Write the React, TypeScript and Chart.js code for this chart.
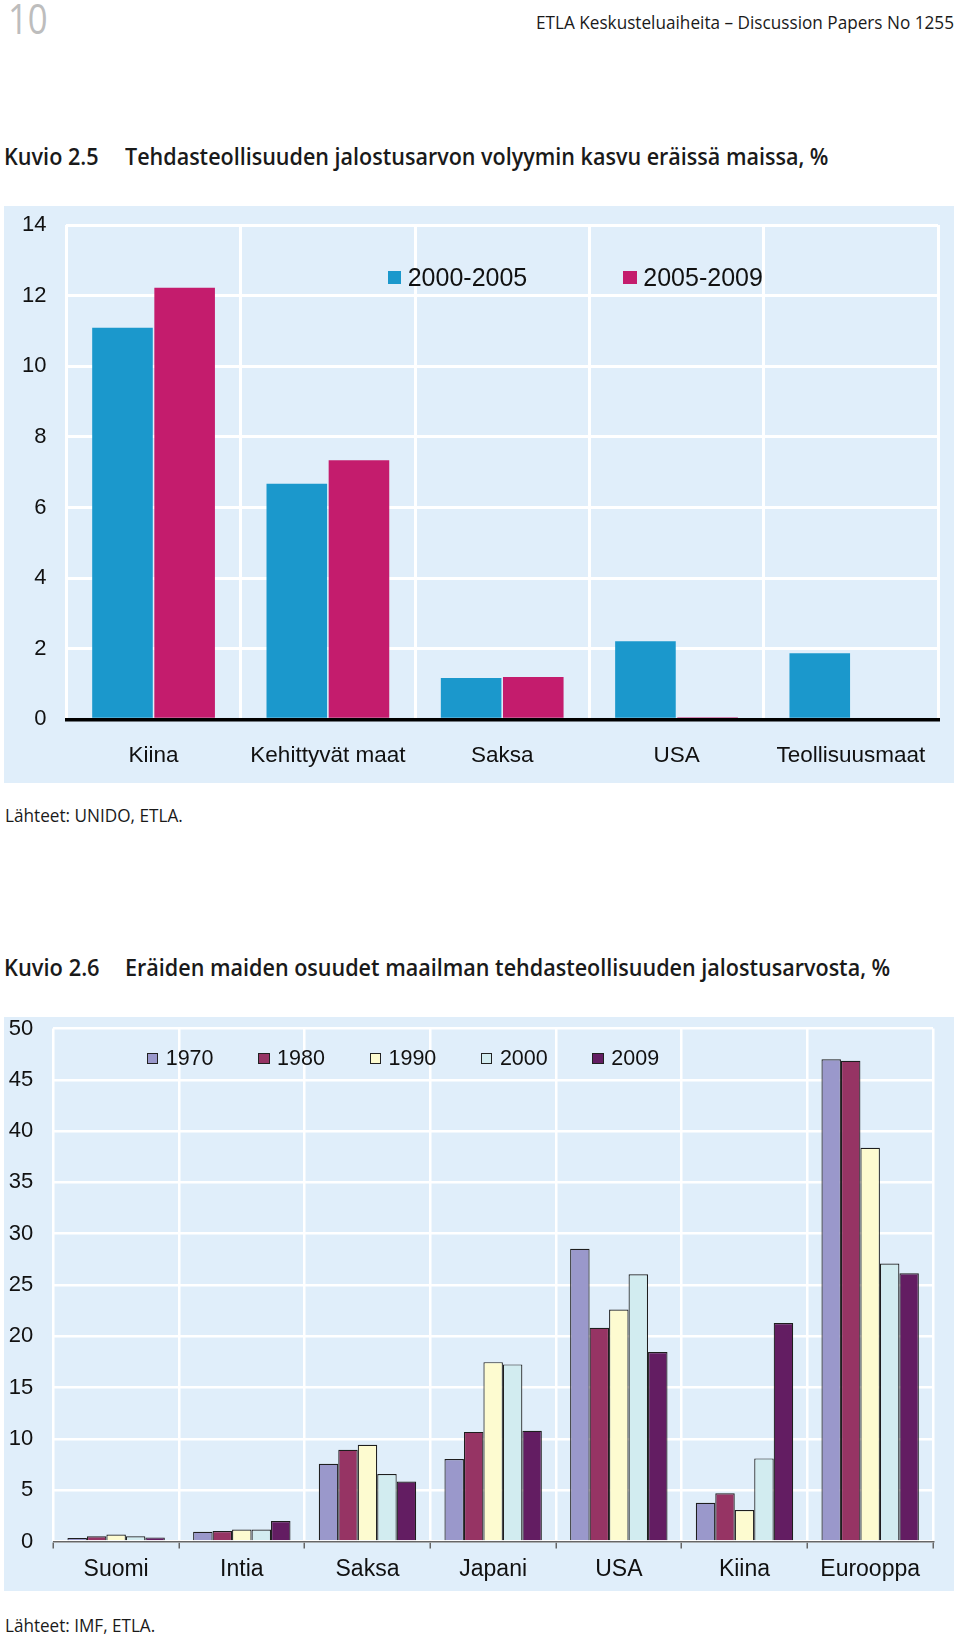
import React, { useEffect, useLayoutEffect, useRef, useState } from "react";
import { Chart, registerables } from "chart.js";

Chart.register(...registerables);

// ---------- DATA ----------
const CATEGORIES_1 = ["Kiina", "Kehittyvät maat", "Saksa", "USA", "Teollisuusmaat"];
const SERIES_1_LABELS = ["2000-2005", "2005-2009"];
const GROWTH_2000_2005 = [11.09, 6.67, 1.17, 2.21, 1.87];
const GROWTH_2005_2009: (number | null)[] = [12.22, 7.34, 1.2, 0.06, null];
const Y1_MIN = 0;
const Y1_MAX = 14;
const Y1_STEP = 2;

const CATEGORIES_2 = ["Suomi", "Intia", "Saksa", "Japani", "USA", "Kiina", "Eurooppa"];
const SERIES_2_LABELS = ["1970", "1980", "1990", "2000", "2009"];
const SHARE_1970 = [0.35, 0.94, 7.58, 8.03, 28.54, 3.77, 47.0];
const SHARE_1980 = [0.5, 1.03, 8.94, 10.68, 20.84, 4.71, 46.85];
const SHARE_1990 = [0.68, 1.16, 9.42, 17.48, 22.6, 3.06, 38.38];
const SHARE_2000 = [0.5, 1.16, 6.58, 17.26, 26.04, 8.1, 27.1];
const SHARE_2009 = [0.4, 2.0, 5.84, 10.8, 18.47, 21.3, 26.14];
const Y2_MIN = 0;
const Y2_MAX = 50;
const Y2_STEP = 5;

// ---------- STYLE ----------
const PANEL_BG = "#e0eefa";
const COLORS_1 = ["#1b98cc", "#c41c6d"];
const COLORS_2 = ["#9a98cb", "#963464", "#fdfbd0", "#d2ecf0", "#631d62"];
const CHART_FONT = "'Liberation Sans', Arial, sans-serif";
const PAGE_FONT = "'Open Sans', 'Noto Sans', sans-serif";

type FitProps = {
  text: string;
  x: number;
  cy: number;
  w: number;
  size: number;
  weight?: number;
  color?: string;
  family?: string;
};

function FitText({ text, x, cy, w, size, weight = 400, color = "#1a1a1a", family = PAGE_FONT }: FitProps) {
  const ref = useRef<HTMLSpanElement>(null);
  const [k, setK] = useState(1);
  useLayoutEffect(() => {
    const measure = () => {
      const el = ref.current;
      if (!el) return;
      const nat = el.offsetWidth;
      if (nat > 0) setK(w / nat);
    };
    measure();
    const f = (document as any).fonts;
    if (f && f.ready) f.ready.then(measure);
  }, [text, w]);
  return (
    <span
      ref={ref}
      style={{
        position: "absolute",
        left: x,
        top: cy - size * 0.6,
        fontSize: size,
        lineHeight: `${size * 1.2}px`,
        fontFamily: family,
        fontWeight: weight,
        color,
        whiteSpace: "nowrap",
        transform: `scaleX(${k})`,
        transformOrigin: "0 50%",
      }}
    >
      {text}
    </span>
  );
}

function Chart1() {
  const ref = useRef<HTMLCanvasElement>(null);
  useEffect(() => {
    if (!ref.current) return;
    const chart = new Chart(ref.current, {
      type: "bar",
      data: {
        labels: CATEGORIES_1,
        datasets: [
          { label: SERIES_1_LABELS[0], data: GROWTH_2000_2005, backgroundColor: COLORS_1[0], borderWidth: 0 },
          { label: SERIES_1_LABELS[1], data: GROWTH_2005_2009 as any, backgroundColor: COLORS_1[1], borderWidth: 0 },
        ],
      },
      options: {
        responsive: false,
        animation: false,
        devicePixelRatio: 1,
        layout: { padding: { top: 19, right: 16, left: 0, bottom: 0 } },
        plugins: { legend: { display: false }, tooltip: { enabled: false } },
        datasets: { bar: { categoryPercentage: 0.713, barPercentage: 0.975 } },
        scales: {
          x: {
            grid: { color: "#ffffff", lineWidth: 3, drawTicks: false, offset: true, z: -1 },
            border: { display: true, color: "#000000", width: 3.5, z: 0 },
            ticks: { font: { family: CHART_FONT, size: 22.5 }, color: "#111111", padding: 23, maxRotation: 0, autoSkip: false },
            afterFit: (s: any) => {
              s.height = 63.7;
            },
          },
          y: {
            min: Y1_MIN,
            max: Y1_MAX,
            ticks: { stepSize: Y1_STEP, font: { family: CHART_FONT, size: 22, lineHeight: 1 }, color: "#111111", padding: 20 },
            grid: { color: "#ffffff", lineWidth: 3, drawTicks: false, z: -1 },
            border: { display: false },
            afterFit: (s: any) => {
              s.width = 62.4;
              s.paddingTop = 0;
              s.paddingBottom = 0;
            },
          },
        },
      } as any,
    });
    return () => chart.destroy();
  }, []);
  return (
    <canvas
      ref={ref}
      width={950}
      height={577}
      style={{ position: "absolute", left: 4, top: 206, width: 950, height: 577, background: PANEL_BG }}
    />
  );
}

function Chart2() {
  const ref = useRef<HTMLCanvasElement>(null);
  useEffect(() => {
    if (!ref.current) return;
    const series = [SHARE_1970, SHARE_1980, SHARE_1990, SHARE_2000, SHARE_2009];
    const chart = new Chart(ref.current, {
      type: "bar",
      data: {
        labels: CATEGORIES_2,
        datasets: series.map((d, i) => ({
          label: SERIES_2_LABELS[i],
          data: d,
          backgroundColor: COLORS_2[i],
          borderColor: "#1e1e1e",
          borderWidth: 1.2,
        })),
      },
      options: {
        responsive: false,
        animation: false,
        devicePixelRatio: 1,
        layout: { padding: { top: 11.5, right: 21, left: 0, bottom: 0 } },
        plugins: { legend: { display: false }, tooltip: { enabled: false } },
        datasets: { bar: { categoryPercentage: 0.775, barPercentage: 1 } },
        scales: {
          x: {
            grid: {
              color: "#ffffff",
              lineWidth: 2.5,
              drawTicks: true,
              tickLength: 7,
              tickColor: "#666666",
              tickWidth: 1.5,
              offset: true,
              z: -1,
            },
            border: { display: true, color: "#666666", width: 1.5, z: 0 },
            ticks: { font: { family: CHART_FONT, size: 23 }, color: "#111111", padding: 7, maxRotation: 0, autoSkip: false },
            afterFit: (s: any) => {
              s.height = 49.5;
            },
          },
          y: {
            min: Y2_MIN,
            max: Y2_MAX,
            ticks: { stepSize: Y2_STEP, font: { family: CHART_FONT, size: 22, lineHeight: 1 }, color: "#111111", padding: 20 },
            grid: { color: "#ffffff", lineWidth: 2.5, drawTicks: false, z: -1 },
            border: { display: false },
            afterFit: (s: any) => {
              s.width = 49.3;
              s.paddingTop = 0;
              s.paddingBottom = 0;
            },
          },
        },
      } as any,
    });
    return () => chart.destroy();
  }, []);
  return (
    <canvas
      ref={ref}
      width={950}
      height={574}
      style={{ position: "absolute", left: 4, top: 1017, width: 950, height: 574, background: PANEL_BG }}
    />
  );
}

function Legend1() {
  const startX = 387.7;
  const step = 235.6;
  const top = 270.7;
  const box = 13.3;
  return (
    <>
      {SERIES_1_LABELS.map((l, i) => (
        <React.Fragment key={l}>
          <div
            style={{ position: "absolute", left: startX + i * step, top, width: box, height: box, background: COLORS_1[i] }}
          />
          <span
            style={{
              position: "absolute",
              left: startX + i * step + 20,
              top: top + box / 2 - 15,
              fontSize: 25,
              lineHeight: "30px",
              fontFamily: CHART_FONT,
              color: "#111",
              whiteSpace: "nowrap",
            }}
          >
            {l}
          </span>
        </React.Fragment>
      ))}
    </>
  );
}

function Legend2() {
  const startX = 146.7;
  const step = 111.4;
  const top = 1052.7;
  const box = 11.5;
  return (
    <>
      {SERIES_2_LABELS.map((l, i) => (
        <React.Fragment key={l}>
          <div
            style={{
              position: "absolute",
              left: startX + i * step,
              top,
              width: box,
              height: box,
              boxSizing: "border-box",
              border: "1.2px solid #222",
              background: COLORS_2[i],
            }}
          />
          <span
            style={{
              position: "absolute",
              left: startX + i * step + 19,
              top: top + box / 2 - 13,
              fontSize: 21.5,
              lineHeight: "26px",
              fontFamily: CHART_FONT,
              color: "#111",
              whiteSpace: "nowrap",
            }}
          >
            {l}
          </span>
        </React.Fragment>
      ))}
    </>
  );
}

export default function App() {
  return (
    <div style={{ position: "absolute", left: 0, top: 0, width: 960, height: 1638, background: "#ffffff", overflow: "hidden" }}>
      <FitText text="10" x={8.4} cy={17.8} w={39.7} size={42} color="#bdbdbd" />
      <FitText text="ETLA Keskusteluaiheita – Discussion Papers No 1255" x={536} cy={22} w={417.7} size={18.5} />

      <FitText text="Kuvio 2.5" x={4.2} cy={156.7} w={95} size={23} weight={600} />
      <FitText
        text="Tehdasteollisuuden jalostusarvon volyymin kasvu eräissä maissa, %"
        x={125.4}
        cy={156.7}
        w={703}
        size={23}
        weight={600}
      />
      <Chart1 />
      <Legend1 />
      <FitText text="Lähteet: UNIDO, ETLA." x={5.2} cy={815.8} w={177.6} size={17.5} />

      <FitText text="Kuvio 2.6" x={4.2} cy={967.3} w={96} size={23} weight={600} />
      <FitText
        text="Eräiden maiden osuudet maailman tehdasteollisuuden jalostusarvosta, %"
        x={125.4}
        cy={967.3}
        w={765.6}
        size={23}
        weight={600}
      />
      <Chart2 />
      <Legend2 />
      <FitText text="Lähteet: IMF, ETLA." x={5.2} cy={1625.4} w={150.4} size={17.5} />
    </div>
  );
}
